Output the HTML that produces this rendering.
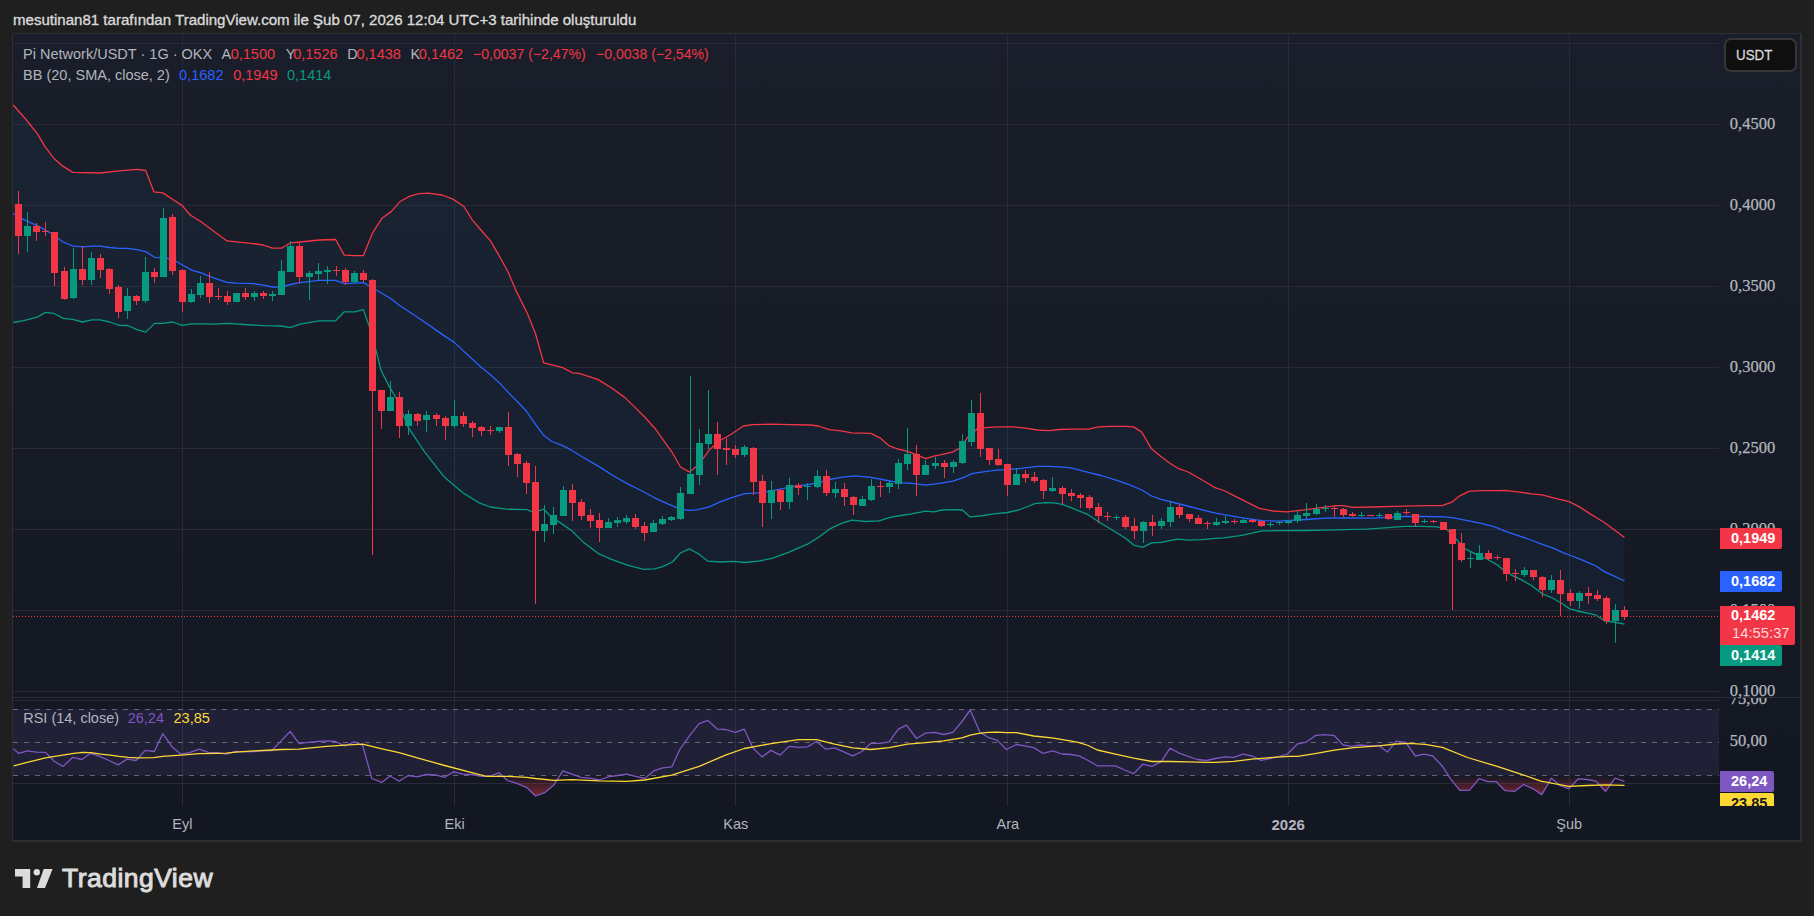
<!DOCTYPE html>
<html><head><meta charset="utf-8"><title>Pi Network/USDT chart</title>
<style>
html,body{margin:0;padding:0;background:#1f1f1f;width:1814px;height:916px;overflow:hidden;}
body{position:relative;font-family:"Liberation Sans",Arial,sans-serif;}
.t{position:absolute;white-space:nowrap;line-height:1;}
.lbl{position:absolute;left:1720px;width:62px;height:21px;font-size:14.5px;font-weight:bold;color:#fff;line-height:21px;text-indent:11px;border-radius:0 2px 2px 0;}
.usdt{position:absolute;left:1723.5px;top:38.2px;width:73.5px;height:33.6px;border:2px solid #363636;border-radius:7px;background:#0f0f0f;box-sizing:border-box}
.logo{position:absolute;left:62px;top:865px;font-size:26.5px;font-weight:normal;color:#dcdcdc;-webkit-text-stroke:1px #dcdcdc;letter-spacing:0.47px}
</style></head>
<body>
<svg width="1814" height="916" viewBox="0 0 1814 916" style="position:absolute;left:0;top:0">
<defs>
<linearGradient id="bg" x1="0" y1="0" x2="0" y2="1"><stop offset="0" stop-color="#1a1e2a"/><stop offset="1" stop-color="#131722"/></linearGradient>
<linearGradient id="os" gradientUnits="userSpaceOnUse" x1="0" y1="775.6" x2="0" y2="800"><stop offset="0" stop-color="#f23645" stop-opacity="0"/><stop offset="1" stop-color="#f23645" stop-opacity="0.55"/></linearGradient>
<clipPath id="mainclip"><rect x="13" y="34" width="1706" height="663"/></clipPath>
<clipPath id="rsiclip"><rect x="13" y="698" width="1706" height="108"/></clipPath>
<clipPath id="osclip"><rect x="13" y="775.6" width="1706" height="40"/></clipPath>
</defs>
<rect x="12" y="33" width="1790" height="809" fill="#2f2f2f"/>
<rect x="13" y="34" width="1787" height="806" fill="url(#bg)"/>
<line x1="13" y1="43.5" x2="1719" y2="43.5" stroke="#282b37" stroke-width="1"/>
<line x1="13" y1="124.5" x2="1719" y2="124.5" stroke="#282b37" stroke-width="1"/>
<line x1="13" y1="205.5" x2="1719" y2="205.5" stroke="#282b37" stroke-width="1"/>
<line x1="13" y1="286.5" x2="1719" y2="286.5" stroke="#282b37" stroke-width="1"/>
<line x1="13" y1="367.5" x2="1719" y2="367.5" stroke="#282b37" stroke-width="1"/>
<line x1="13" y1="448.5" x2="1719" y2="448.5" stroke="#282b37" stroke-width="1"/>
<line x1="13" y1="529.5" x2="1719" y2="529.5" stroke="#282b37" stroke-width="1"/>
<line x1="13" y1="610.5" x2="1719" y2="610.5" stroke="#282b37" stroke-width="1"/>
<line x1="13" y1="691.5" x2="1719" y2="691.5" stroke="#282b37" stroke-width="1"/>
<line x1="182.5" y1="34" x2="182.5" y2="806" stroke="#282b37" stroke-width="1"/>
<line x1="454.5" y1="34" x2="454.5" y2="806" stroke="#282b37" stroke-width="1"/>
<line x1="735.5" y1="34" x2="735.5" y2="806" stroke="#282b37" stroke-width="1"/>
<line x1="1007.5" y1="34" x2="1007.5" y2="806" stroke="#282b37" stroke-width="1"/>
<line x1="1288.5" y1="34" x2="1288.5" y2="806" stroke="#282b37" stroke-width="1"/>
<line x1="1569.5" y1="34" x2="1569.5" y2="806" stroke="#282b37" stroke-width="1"/>
<line x1="13" y1="697.5" x2="1800" y2="697.5" stroke="#2a2e39" stroke-width="1"/>
<line x1="13" y1="700.5" x2="1719" y2="700.5" stroke="#282b37" stroke-width="1"/>
<line x1="13" y1="783.5" x2="1719" y2="783.5" stroke="#282b37" stroke-width="1"/>
<rect x="13" y="709.1" width="1706" height="66.5" fill="#7e57c2" fill-opacity="0.12"/>
<line x1="13" y1="709.5" x2="1719" y2="709.5" stroke="#787b86" stroke-width="1" stroke-dasharray="5 6" stroke-opacity="0.8"/>
<line x1="13" y1="742.5" x2="1719" y2="742.5" stroke="#787b86" stroke-width="1" stroke-dasharray="5 6" stroke-opacity="0.8"/>
<line x1="13" y1="775.5" x2="1719" y2="775.5" stroke="#787b86" stroke-width="1" stroke-dasharray="5 6" stroke-opacity="0.8"/>
<g clip-path="url(#mainclip)">
<polygon points="13.3,105.0 26.4,120.0 37.3,133.7 45.5,147.3 53.7,158.2 63.2,166.4 72.8,172.4 100.1,173.0 119.2,170.8 137.0,169.4 145.7,170.5 153.9,191.8 162.9,192.9 172.5,199.2 182.0,205.4 190.2,215.0 201.1,221.8 214.8,231.9 227.1,240.9 250.9,243.3 263.2,245.0 272.2,248.2 281.5,248.2 290.5,242.8 300.1,242.0 319.2,240.0 335.6,239.5 344.3,255.1 354.7,255.6 363.4,255.6 372.4,233.2 382.0,218.2 391.5,211.4 399.7,201.8 409.3,196.4 418.8,193.6 428.4,193.1 442.0,195.0 453.0,199.1 463.9,206.5 472.1,219.6 480.9,230.0 490.5,240.9 500.0,257.3 508.2,272.3 516.4,291.4 527.3,313.3 535.5,333.7 543.7,362.9 551.9,364.8 562.8,367.6 572.4,372.8 579.2,373.3 590.1,376.9 598.3,379.6 612.0,388.3 624.3,397.1 633.8,406.1 644.7,417.0 655.7,429.3 672.4,452.8 680.5,467.0 689.3,471.9 698.3,465.1 709.2,450.1 720.1,440.5 731.1,434.2 743.3,426.0 752.9,424.7 772.0,424.1 791.1,424.7 810.2,425.0 818.4,426.0 829.4,429.6 840.9,430.9 851.8,432.8 871.0,433.3 880.5,438.2 888.7,445.6 898.3,449.1 907.8,451.3 917.4,455.2 925.6,458.7 933.8,456.2 944.7,453.8 952.9,451.9 961.1,447.2 967.9,436.9 977.4,428.7 988.4,427.3 999.3,426.8 1012.9,426.8 1023.9,427.9 1037.5,430.0 1048.4,430.6 1059.4,429.5 1070.9,429.1 1088.7,429.1 1098.2,426.9 1109.1,426.4 1125.5,426.4 1133.7,426.9 1141.9,432.4 1151.5,448.8 1161.0,456.4 1169.2,462.7 1178.8,468.7 1188.3,472.0 1199.2,478.3 1214.3,487.3 1223.8,490.5 1237.5,497.4 1248.4,502.8 1259.3,508.3 1273.0,511.0 1286.6,511.8 1306.4,509.7 1322.8,507.3 1336.4,505.6 1343.2,505.6 1352.8,507.3 1371.9,507.0 1393.8,506.4 1412.9,505.9 1426.5,505.6 1442.1,505.6 1452.5,501.8 1459.3,496.1 1468.8,491.4 1481.1,490.6 1494.8,490.6 1504.9,490.3 1521.5,492.4 1531.8,493.9 1542.2,494.9 1552.6,497.6 1563.0,500.1 1569.2,501.7 1579.5,506.9 1589.9,513.6 1598.2,518.7 1604.4,522.5 1612.7,528.7 1618.9,533.3 1624.5,537.4 1624.5,624.1 1612.7,622.0 1604.4,620.8 1596.1,615.2 1589.9,613.7 1579.5,611.5 1569.2,608.6 1563.0,604.2 1552.6,598.0 1542.2,593.8 1531.8,585.7 1521.5,579.9 1511.1,574.8 1502.8,569.6 1497.5,565.1 1486.6,558.8 1475.7,554.2 1464.7,548.7 1453.8,536.5 1447.0,529.6 1437.4,526.9 1421.1,526.4 1404.7,526.4 1388.3,527.7 1366.5,529.1 1344.6,529.6 1325.5,530.2 1306.4,530.5 1278.4,530.7 1262.0,530.9 1251.1,533.4 1240.2,535.6 1223.8,537.8 1215.6,538.3 1202.0,539.7 1188.3,540.2 1177.4,539.1 1161.0,542.4 1151.5,542.9 1142.7,547.3 1133.7,545.1 1125.5,538.3 1114.6,531.5 1101.0,523.3 1087.3,514.3 1070.9,507.7 1062.1,504.3 1053.9,502.9 1045.7,502.6 1034.8,503.7 1026.6,507.0 1018.4,510.0 1007.5,512.5 993.8,513.8 980.2,516.0 969.8,516.8 962.4,510.0 952.9,509.7 941.9,510.0 933.8,511.9 925.6,511.1 911.9,513.8 901.0,515.5 890.1,517.4 879.1,520.9 865.5,521.5 851.8,520.1 840.9,523.7 829.4,529.2 818.4,537.4 807.5,544.2 788.4,552.4 772.0,558.4 758.4,561.1 744.7,562.5 733.8,561.4 720.1,562.0 707.8,561.1 698.3,553.8 689.3,548.9 680.5,553.0 672.4,562.0 662.8,566.6 654.6,568.8 643.7,569.3 627.3,565.2 610.9,559.2 599.4,554.2 583.0,541.9 572.0,531.0 561.1,523.4 550.2,516.0 543.9,509.2 533.8,512.5 527.0,509.7 506.5,509.2 490.1,507.0 479.2,502.9 462.8,492.8 443.7,476.4 424.6,451.9 408.2,427.3 397.3,400.0 389.1,386.4 380.9,370.0 372.4,335.6 363.4,309.6 354.7,311.8 344.3,311.8 335.6,320.8 319.2,320.8 300.1,324.1 290.5,327.7 281.0,326.0 263.2,325.7 227.1,323.4 214.8,324.2 201.1,323.9 191.6,323.9 182.0,325.3 172.5,322.0 162.9,323.4 154.7,323.4 145.7,332.1 137.0,329.6 127.4,325.5 119.2,325.3 109.7,322.0 100.1,319.8 91.9,319.8 82.4,322.0 72.8,319.3 63.2,318.4 53.7,313.3 45.5,312.4 37.3,317.1 23.7,320.6 13.3,322.5" fill="#2196f3" fill-opacity="0.05"/>
<polyline points="13.3,105.0 26.4,120.0 37.3,133.7 45.5,147.3 53.7,158.2 63.2,166.4 72.8,172.4 100.1,173.0 119.2,170.8 137.0,169.4 145.7,170.5 153.9,191.8 162.9,192.9 172.5,199.2 182.0,205.4 190.2,215.0 201.1,221.8 214.8,231.9 227.1,240.9 250.9,243.3 263.2,245.0 272.2,248.2 281.5,248.2 290.5,242.8 300.1,242.0 319.2,240.0 335.6,239.5 344.3,255.1 354.7,255.6 363.4,255.6 372.4,233.2 382.0,218.2 391.5,211.4 399.7,201.8 409.3,196.4 418.8,193.6 428.4,193.1 442.0,195.0 453.0,199.1 463.9,206.5 472.1,219.6 480.9,230.0 490.5,240.9 500.0,257.3 508.2,272.3 516.4,291.4 527.3,313.3 535.5,333.7 543.7,362.9 551.9,364.8 562.8,367.6 572.4,372.8 579.2,373.3 590.1,376.9 598.3,379.6 612.0,388.3 624.3,397.1 633.8,406.1 644.7,417.0 655.7,429.3 672.4,452.8 680.5,467.0 689.3,471.9 698.3,465.1 709.2,450.1 720.1,440.5 731.1,434.2 743.3,426.0 752.9,424.7 772.0,424.1 791.1,424.7 810.2,425.0 818.4,426.0 829.4,429.6 840.9,430.9 851.8,432.8 871.0,433.3 880.5,438.2 888.7,445.6 898.3,449.1 907.8,451.3 917.4,455.2 925.6,458.7 933.8,456.2 944.7,453.8 952.9,451.9 961.1,447.2 967.9,436.9 977.4,428.7 988.4,427.3 999.3,426.8 1012.9,426.8 1023.9,427.9 1037.5,430.0 1048.4,430.6 1059.4,429.5 1070.9,429.1 1088.7,429.1 1098.2,426.9 1109.1,426.4 1125.5,426.4 1133.7,426.9 1141.9,432.4 1151.5,448.8 1161.0,456.4 1169.2,462.7 1178.8,468.7 1188.3,472.0 1199.2,478.3 1214.3,487.3 1223.8,490.5 1237.5,497.4 1248.4,502.8 1259.3,508.3 1273.0,511.0 1286.6,511.8 1306.4,509.7 1322.8,507.3 1336.4,505.6 1343.2,505.6 1352.8,507.3 1371.9,507.0 1393.8,506.4 1412.9,505.9 1426.5,505.6 1442.1,505.6 1452.5,501.8 1459.3,496.1 1468.8,491.4 1481.1,490.6 1494.8,490.6 1504.9,490.3 1521.5,492.4 1531.8,493.9 1542.2,494.9 1552.6,497.6 1563.0,500.1 1569.2,501.7 1579.5,506.9 1589.9,513.6 1598.2,518.7 1604.4,522.5 1612.7,528.7 1618.9,533.3 1624.5,537.4" fill="none" stroke="#f23645" stroke-width="1.3" stroke-linejoin="round"/>
<polyline points="13.3,322.5 23.7,320.6 37.3,317.1 45.5,312.4 53.7,313.3 63.2,318.4 72.8,319.3 82.4,322.0 91.9,319.8 100.1,319.8 109.7,322.0 119.2,325.3 127.4,325.5 137.0,329.6 145.7,332.1 154.7,323.4 162.9,323.4 172.5,322.0 182.0,325.3 191.6,323.9 201.1,323.9 214.8,324.2 227.1,323.4 263.2,325.7 281.0,326.0 290.5,327.7 300.1,324.1 319.2,320.8 335.6,320.8 344.3,311.8 354.7,311.8 363.4,309.6 372.4,335.6 380.9,370.0 389.1,386.4 397.3,400.0 408.2,427.3 424.6,451.9 443.7,476.4 462.8,492.8 479.2,502.9 490.1,507.0 506.5,509.2 527.0,509.7 533.8,512.5 543.9,509.2 550.2,516.0 561.1,523.4 572.0,531.0 583.0,541.9 599.4,554.2 610.9,559.2 627.3,565.2 643.7,569.3 654.6,568.8 662.8,566.6 672.4,562.0 680.5,553.0 689.3,548.9 698.3,553.8 707.8,561.1 720.1,562.0 733.8,561.4 744.7,562.5 758.4,561.1 772.0,558.4 788.4,552.4 807.5,544.2 818.4,537.4 829.4,529.2 840.9,523.7 851.8,520.1 865.5,521.5 879.1,520.9 890.1,517.4 901.0,515.5 911.9,513.8 925.6,511.1 933.8,511.9 941.9,510.0 952.9,509.7 962.4,510.0 969.8,516.8 980.2,516.0 993.8,513.8 1007.5,512.5 1018.4,510.0 1026.6,507.0 1034.8,503.7 1045.7,502.6 1053.9,502.9 1062.1,504.3 1070.9,507.7 1087.3,514.3 1101.0,523.3 1114.6,531.5 1125.5,538.3 1133.7,545.1 1142.7,547.3 1151.5,542.9 1161.0,542.4 1177.4,539.1 1188.3,540.2 1202.0,539.7 1215.6,538.3 1223.8,537.8 1240.2,535.6 1251.1,533.4 1262.0,530.9 1278.4,530.7 1306.4,530.5 1325.5,530.2 1344.6,529.6 1366.5,529.1 1388.3,527.7 1404.7,526.4 1421.1,526.4 1437.4,526.9 1447.0,529.6 1453.8,536.5 1464.7,548.7 1475.7,554.2 1486.6,558.8 1497.5,565.1 1502.8,569.6 1511.1,574.8 1521.5,579.9 1531.8,585.7 1542.2,593.8 1552.6,598.0 1563.0,604.2 1569.2,608.6 1579.5,611.5 1589.9,613.7 1596.1,615.2 1604.4,620.8 1612.7,622.0 1624.5,624.1" fill="none" stroke="#089981" stroke-width="1.3" stroke-linejoin="round"/>
<polyline points="13.3,213.6 23.7,219.6 37.3,225.6 51.0,233.3 63.2,242.0 73.3,246.1 83.7,246.9 91.9,246.1 100.1,246.1 109.7,247.5 119.2,248.3 127.4,248.3 137.0,249.7 145.7,251.6 154.7,257.3 162.9,257.8 172.5,259.2 182.0,264.7 191.6,270.1 201.1,272.9 213.4,277.8 227.1,282.4 236.6,283.2 253.7,283.7 263.2,285.1 272.2,287.0 281.5,287.0 290.5,284.5 300.1,282.6 319.2,280.4 335.6,280.4 344.3,283.7 354.7,283.2 363.4,282.6 372.4,287.8 390.2,298.2 399.7,305.5 417.5,317.3 431.1,326.6 444.8,336.1 454.3,342.4 463.9,351.4 470.0,356.9 480.9,367.0 490.5,374.7 500.0,383.4 508.2,392.4 517.8,402.0 526.0,410.7 535.5,424.3 543.7,435.3 551.9,441.5 561.5,445.1 569.7,449.2 583.0,457.3 599.4,466.9 613.7,476.0 627.3,483.6 641.0,490.5 654.6,497.8 668.3,504.1 679.2,508.7 687.4,510.4 696.9,509.8 709.2,506.8 720.1,501.9 731.1,497.8 744.7,493.7 754.3,493.2 763.8,492.4 777.5,489.6 791.1,486.9 804.8,485.0 818.4,482.8 829.4,479.5 840.9,477.3 854.6,475.9 871.0,477.3 884.6,480.0 898.3,482.7 911.9,483.3 925.6,485.2 939.2,483.3 952.9,481.1 963.8,477.3 972.0,473.7 982.9,471.8 996.6,470.2 1007.5,469.6 1021.1,468.3 1037.5,466.3 1048.4,466.3 1059.4,466.9 1070.9,467.9 1087.3,472.2 1101.0,475.5 1114.6,479.6 1128.3,484.3 1141.9,490.0 1151.5,496.0 1161.0,499.3 1171.9,502.0 1185.6,505.5 1199.2,509.1 1215.6,513.2 1229.3,515.6 1245.7,518.4 1262.0,520.6 1278.4,521.1 1306.4,519.5 1325.5,518.2 1344.6,517.9 1371.9,518.2 1388.3,517.4 1399.2,516.5 1412.9,516.5 1426.5,516.5 1444.3,516.8 1453.8,517.9 1467.5,520.6 1481.1,523.4 1494.8,526.9 1504.9,531.2 1517.3,535.3 1529.8,539.5 1542.2,544.3 1552.6,547.8 1563.0,552.6 1569.2,555.0 1579.5,558.8 1589.9,563.3 1596.1,566.0 1604.4,571.6 1612.7,575.4 1624.5,581.0" fill="none" stroke="#2962ff" stroke-width="1.3" stroke-linejoin="round"/>
<rect x="18" y="191" width="1" height="63" fill="#f23645"/>
<rect x="15" y="204" width="7" height="32" fill="#f23645"/>
<rect x="27" y="212" width="1" height="40" fill="#089981"/>
<rect x="24" y="226" width="7" height="10" fill="#089981"/>
<rect x="36" y="223" width="1" height="18" fill="#f23645"/>
<rect x="33" y="226" width="7" height="6" fill="#f23645"/>
<rect x="45" y="222" width="1" height="14" fill="#f23645"/>
<rect x="42" y="231" width="7" height="1" fill="#f23645"/>
<rect x="54" y="232" width="1" height="54" fill="#f23645"/>
<rect x="51" y="232" width="7" height="41" fill="#f23645"/>
<rect x="64" y="267" width="1" height="33" fill="#f23645"/>
<rect x="61" y="271" width="7" height="28" fill="#f23645"/>
<rect x="73" y="248" width="1" height="51" fill="#089981"/>
<rect x="70" y="269" width="7" height="29" fill="#089981"/>
<rect x="82" y="246" width="1" height="39" fill="#f23645"/>
<rect x="79" y="269" width="7" height="11" fill="#f23645"/>
<rect x="91" y="252" width="1" height="33" fill="#089981"/>
<rect x="88" y="258" width="7" height="22" fill="#089981"/>
<rect x="100" y="254" width="1" height="24" fill="#f23645"/>
<rect x="97" y="258" width="7" height="12" fill="#f23645"/>
<rect x="109" y="268" width="1" height="26" fill="#f23645"/>
<rect x="106" y="269" width="7" height="20" fill="#f23645"/>
<rect x="118" y="285" width="1" height="33" fill="#f23645"/>
<rect x="115" y="287" width="7" height="25" fill="#f23645"/>
<rect x="127" y="288" width="1" height="31" fill="#089981"/>
<rect x="124" y="296" width="7" height="15" fill="#089981"/>
<rect x="136" y="295" width="1" height="10" fill="#f23645"/>
<rect x="133" y="296" width="7" height="5" fill="#f23645"/>
<rect x="145" y="257" width="1" height="46" fill="#089981"/>
<rect x="142" y="272" width="7" height="29" fill="#089981"/>
<rect x="154" y="268" width="1" height="15" fill="#f23645"/>
<rect x="151" y="272" width="7" height="5" fill="#f23645"/>
<rect x="163" y="208" width="1" height="69" fill="#089981"/>
<rect x="160" y="218" width="7" height="59" fill="#089981"/>
<rect x="172" y="214" width="1" height="61" fill="#f23645"/>
<rect x="169" y="217" width="7" height="54" fill="#f23645"/>
<rect x="182" y="269" width="1" height="43" fill="#f23645"/>
<rect x="179" y="270" width="7" height="32" fill="#f23645"/>
<rect x="191" y="289" width="1" height="14" fill="#089981"/>
<rect x="188" y="294" width="7" height="8" fill="#089981"/>
<rect x="200" y="276" width="1" height="22" fill="#089981"/>
<rect x="197" y="283" width="7" height="12" fill="#089981"/>
<rect x="209" y="272" width="1" height="31" fill="#f23645"/>
<rect x="206" y="283" width="7" height="14" fill="#f23645"/>
<rect x="218" y="288" width="1" height="12" fill="#f23645"/>
<rect x="215" y="296" width="7" height="1" fill="#f23645"/>
<rect x="227" y="291" width="1" height="14" fill="#f23645"/>
<rect x="224" y="296" width="7" height="6" fill="#f23645"/>
<rect x="236" y="293" width="1" height="9" fill="#089981"/>
<rect x="233" y="293" width="7" height="9" fill="#089981"/>
<rect x="245" y="288" width="1" height="12" fill="#f23645"/>
<rect x="242" y="293" width="7" height="4" fill="#f23645"/>
<rect x="254" y="291" width="1" height="10" fill="#089981"/>
<rect x="251" y="293" width="7" height="4" fill="#089981"/>
<rect x="263" y="291" width="1" height="8" fill="#f23645"/>
<rect x="260" y="293" width="7" height="3" fill="#f23645"/>
<rect x="272" y="291" width="1" height="10" fill="#089981"/>
<rect x="269" y="294" width="7" height="2" fill="#089981"/>
<rect x="281" y="260" width="1" height="35" fill="#089981"/>
<rect x="278" y="271" width="7" height="24" fill="#089981"/>
<rect x="290" y="241" width="1" height="31" fill="#089981"/>
<rect x="287" y="246" width="7" height="26" fill="#089981"/>
<rect x="299" y="243" width="1" height="40" fill="#f23645"/>
<rect x="296" y="246" width="7" height="31" fill="#f23645"/>
<rect x="309" y="271" width="1" height="29" fill="#089981"/>
<rect x="306" y="273" width="7" height="4" fill="#089981"/>
<rect x="318" y="263" width="1" height="17" fill="#089981"/>
<rect x="315" y="271" width="7" height="3" fill="#089981"/>
<rect x="327" y="266" width="1" height="18" fill="#089981"/>
<rect x="324" y="270" width="7" height="2" fill="#089981"/>
<rect x="336" y="266" width="1" height="10" fill="#f23645"/>
<rect x="333" y="270" width="7" height="1" fill="#f23645"/>
<rect x="345" y="268" width="1" height="17" fill="#f23645"/>
<rect x="342" y="270" width="7" height="12" fill="#f23645"/>
<rect x="354" y="271" width="1" height="12" fill="#089981"/>
<rect x="351" y="273" width="7" height="9" fill="#089981"/>
<rect x="363" y="270" width="1" height="12" fill="#f23645"/>
<rect x="360" y="273" width="7" height="7" fill="#f23645"/>
<rect x="372" y="279" width="1" height="276" fill="#f23645"/>
<rect x="369" y="280" width="7" height="111" fill="#f23645"/>
<rect x="381" y="390" width="1" height="39" fill="#f23645"/>
<rect x="378" y="390" width="7" height="21" fill="#f23645"/>
<rect x="390" y="381" width="1" height="30" fill="#089981"/>
<rect x="387" y="397" width="7" height="14" fill="#089981"/>
<rect x="399" y="392" width="1" height="46" fill="#f23645"/>
<rect x="396" y="397" width="7" height="29" fill="#f23645"/>
<rect x="408" y="410" width="1" height="25" fill="#089981"/>
<rect x="405" y="414" width="7" height="12" fill="#089981"/>
<rect x="417" y="413" width="1" height="13" fill="#f23645"/>
<rect x="414" y="414" width="7" height="7" fill="#f23645"/>
<rect x="426" y="411" width="1" height="21" fill="#089981"/>
<rect x="423" y="415" width="7" height="5" fill="#089981"/>
<rect x="436" y="413" width="1" height="13" fill="#f23645"/>
<rect x="433" y="415" width="7" height="4" fill="#f23645"/>
<rect x="445" y="416" width="1" height="24" fill="#f23645"/>
<rect x="442" y="418" width="7" height="8" fill="#f23645"/>
<rect x="454" y="400" width="1" height="28" fill="#089981"/>
<rect x="451" y="416" width="7" height="10" fill="#089981"/>
<rect x="463" y="412" width="1" height="15" fill="#f23645"/>
<rect x="460" y="416" width="7" height="8" fill="#f23645"/>
<rect x="472" y="421" width="1" height="16" fill="#f23645"/>
<rect x="469" y="423" width="7" height="5" fill="#f23645"/>
<rect x="481" y="426" width="1" height="10" fill="#f23645"/>
<rect x="478" y="427" width="7" height="4" fill="#f23645"/>
<rect x="490" y="426" width="1" height="9" fill="#f23645"/>
<rect x="487" y="430" width="7" height="1" fill="#f23645"/>
<rect x="499" y="427" width="1" height="6" fill="#089981"/>
<rect x="496" y="427" width="7" height="4" fill="#089981"/>
<rect x="508" y="412" width="1" height="54" fill="#f23645"/>
<rect x="505" y="427" width="7" height="28" fill="#f23645"/>
<rect x="517" y="453" width="1" height="24" fill="#f23645"/>
<rect x="514" y="454" width="7" height="10" fill="#f23645"/>
<rect x="526" y="461" width="1" height="33" fill="#f23645"/>
<rect x="523" y="463" width="7" height="20" fill="#f23645"/>
<rect x="535" y="466" width="1" height="138" fill="#f23645"/>
<rect x="532" y="482" width="7" height="49" fill="#f23645"/>
<rect x="544" y="505" width="1" height="37" fill="#089981"/>
<rect x="541" y="524" width="7" height="7" fill="#089981"/>
<rect x="553" y="507" width="1" height="27" fill="#089981"/>
<rect x="550" y="515" width="7" height="10" fill="#089981"/>
<rect x="563" y="486" width="1" height="30" fill="#089981"/>
<rect x="560" y="490" width="7" height="26" fill="#089981"/>
<rect x="572" y="484" width="1" height="37" fill="#f23645"/>
<rect x="569" y="490" width="7" height="13" fill="#f23645"/>
<rect x="581" y="499" width="1" height="21" fill="#f23645"/>
<rect x="578" y="502" width="7" height="14" fill="#f23645"/>
<rect x="590" y="509" width="1" height="19" fill="#f23645"/>
<rect x="587" y="515" width="7" height="6" fill="#f23645"/>
<rect x="599" y="513" width="1" height="29" fill="#f23645"/>
<rect x="596" y="520" width="7" height="8" fill="#f23645"/>
<rect x="608" y="518" width="1" height="10" fill="#089981"/>
<rect x="605" y="522" width="7" height="6" fill="#089981"/>
<rect x="617" y="517" width="1" height="10" fill="#089981"/>
<rect x="614" y="520" width="7" height="3" fill="#089981"/>
<rect x="626" y="515" width="1" height="9" fill="#089981"/>
<rect x="623" y="518" width="7" height="4" fill="#089981"/>
<rect x="635" y="514" width="1" height="15" fill="#f23645"/>
<rect x="632" y="518" width="7" height="9" fill="#f23645"/>
<rect x="644" y="522" width="1" height="19" fill="#f23645"/>
<rect x="641" y="526" width="7" height="7" fill="#f23645"/>
<rect x="653" y="520" width="1" height="12" fill="#089981"/>
<rect x="650" y="523" width="7" height="9" fill="#089981"/>
<rect x="662" y="516" width="1" height="9" fill="#089981"/>
<rect x="659" y="519" width="7" height="5" fill="#089981"/>
<rect x="671" y="516" width="1" height="5" fill="#089981"/>
<rect x="668" y="517" width="7" height="3" fill="#089981"/>
<rect x="680" y="487" width="1" height="33" fill="#089981"/>
<rect x="677" y="493" width="7" height="26" fill="#089981"/>
<rect x="690" y="376" width="1" height="118" fill="#089981"/>
<rect x="687" y="474" width="7" height="20" fill="#089981"/>
<rect x="699" y="429" width="1" height="56" fill="#089981"/>
<rect x="696" y="443" width="7" height="32" fill="#089981"/>
<rect x="708" y="390" width="1" height="59" fill="#089981"/>
<rect x="705" y="434" width="7" height="10" fill="#089981"/>
<rect x="717" y="422" width="1" height="53" fill="#f23645"/>
<rect x="714" y="434" width="7" height="15" fill="#f23645"/>
<rect x="726" y="438" width="1" height="27" fill="#f23645"/>
<rect x="723" y="448" width="7" height="2" fill="#f23645"/>
<rect x="735" y="445" width="1" height="13" fill="#f23645"/>
<rect x="732" y="449" width="7" height="6" fill="#f23645"/>
<rect x="744" y="445" width="1" height="12" fill="#089981"/>
<rect x="741" y="447" width="7" height="8" fill="#089981"/>
<rect x="753" y="447" width="1" height="48" fill="#f23645"/>
<rect x="750" y="448" width="7" height="34" fill="#f23645"/>
<rect x="762" y="475" width="1" height="52" fill="#f23645"/>
<rect x="759" y="481" width="7" height="22" fill="#f23645"/>
<rect x="771" y="481" width="1" height="38" fill="#089981"/>
<rect x="768" y="490" width="7" height="13" fill="#089981"/>
<rect x="780" y="489" width="1" height="21" fill="#f23645"/>
<rect x="777" y="490" width="7" height="12" fill="#f23645"/>
<rect x="789" y="478" width="1" height="31" fill="#089981"/>
<rect x="786" y="485" width="7" height="17" fill="#089981"/>
<rect x="798" y="483" width="1" height="12" fill="#f23645"/>
<rect x="795" y="485" width="7" height="3" fill="#f23645"/>
<rect x="807" y="483" width="1" height="17" fill="#089981"/>
<rect x="804" y="486" width="7" height="1" fill="#089981"/>
<rect x="817" y="470" width="1" height="18" fill="#089981"/>
<rect x="814" y="476" width="7" height="11" fill="#089981"/>
<rect x="826" y="470" width="1" height="26" fill="#f23645"/>
<rect x="823" y="476" width="7" height="17" fill="#f23645"/>
<rect x="835" y="482" width="1" height="16" fill="#089981"/>
<rect x="832" y="489" width="7" height="4" fill="#089981"/>
<rect x="844" y="483" width="1" height="23" fill="#f23645"/>
<rect x="841" y="489" width="7" height="8" fill="#f23645"/>
<rect x="853" y="496" width="1" height="19" fill="#f23645"/>
<rect x="850" y="497" width="7" height="8" fill="#f23645"/>
<rect x="862" y="496" width="1" height="10" fill="#089981"/>
<rect x="859" y="499" width="7" height="7" fill="#089981"/>
<rect x="871" y="479" width="1" height="22" fill="#089981"/>
<rect x="868" y="486" width="7" height="14" fill="#089981"/>
<rect x="880" y="481" width="1" height="16" fill="#f23645"/>
<rect x="877" y="486" width="7" height="1" fill="#f23645"/>
<rect x="889" y="481" width="1" height="12" fill="#089981"/>
<rect x="886" y="483" width="7" height="4" fill="#089981"/>
<rect x="898" y="459" width="1" height="30" fill="#089981"/>
<rect x="895" y="463" width="7" height="21" fill="#089981"/>
<rect x="907" y="428" width="1" height="42" fill="#089981"/>
<rect x="904" y="454" width="7" height="10" fill="#089981"/>
<rect x="916" y="445" width="1" height="51" fill="#f23645"/>
<rect x="913" y="454" width="7" height="21" fill="#f23645"/>
<rect x="925" y="460" width="1" height="15" fill="#089981"/>
<rect x="922" y="465" width="7" height="10" fill="#089981"/>
<rect x="935" y="457" width="1" height="12" fill="#089981"/>
<rect x="932" y="463" width="7" height="3" fill="#089981"/>
<rect x="944" y="460" width="1" height="18" fill="#f23645"/>
<rect x="941" y="463" width="7" height="4" fill="#f23645"/>
<rect x="953" y="460" width="1" height="13" fill="#089981"/>
<rect x="950" y="462" width="7" height="5" fill="#089981"/>
<rect x="962" y="434" width="1" height="30" fill="#089981"/>
<rect x="959" y="441" width="7" height="22" fill="#089981"/>
<rect x="971" y="400" width="1" height="46" fill="#089981"/>
<rect x="968" y="413" width="7" height="29" fill="#089981"/>
<rect x="980" y="393" width="1" height="64" fill="#f23645"/>
<rect x="977" y="413" width="7" height="36" fill="#f23645"/>
<rect x="989" y="448" width="1" height="17" fill="#f23645"/>
<rect x="986" y="448" width="7" height="12" fill="#f23645"/>
<rect x="998" y="449" width="1" height="17" fill="#f23645"/>
<rect x="995" y="459" width="7" height="6" fill="#f23645"/>
<rect x="1007" y="464" width="1" height="32" fill="#f23645"/>
<rect x="1004" y="464" width="7" height="21" fill="#f23645"/>
<rect x="1016" y="468" width="1" height="17" fill="#089981"/>
<rect x="1013" y="474" width="7" height="11" fill="#089981"/>
<rect x="1025" y="470" width="1" height="13" fill="#f23645"/>
<rect x="1022" y="474" width="7" height="4" fill="#f23645"/>
<rect x="1034" y="472" width="1" height="11" fill="#f23645"/>
<rect x="1031" y="477" width="7" height="4" fill="#f23645"/>
<rect x="1043" y="479" width="1" height="20" fill="#f23645"/>
<rect x="1040" y="480" width="7" height="11" fill="#f23645"/>
<rect x="1052" y="477" width="1" height="15" fill="#089981"/>
<rect x="1049" y="488" width="7" height="3" fill="#089981"/>
<rect x="1062" y="486" width="1" height="18" fill="#f23645"/>
<rect x="1059" y="488" width="7" height="6" fill="#f23645"/>
<rect x="1071" y="489" width="1" height="12" fill="#f23645"/>
<rect x="1068" y="493" width="7" height="3" fill="#f23645"/>
<rect x="1080" y="493" width="1" height="15" fill="#f23645"/>
<rect x="1077" y="495" width="7" height="3" fill="#f23645"/>
<rect x="1089" y="495" width="1" height="15" fill="#f23645"/>
<rect x="1086" y="497" width="7" height="11" fill="#f23645"/>
<rect x="1098" y="503" width="1" height="20" fill="#f23645"/>
<rect x="1095" y="507" width="7" height="9" fill="#f23645"/>
<rect x="1107" y="512" width="1" height="9" fill="#f23645"/>
<rect x="1104" y="516" width="7" height="1" fill="#f23645"/>
<rect x="1116" y="515" width="1" height="5" fill="#089981"/>
<rect x="1113" y="517" width="7" height="1" fill="#089981"/>
<rect x="1125" y="515" width="1" height="14" fill="#f23645"/>
<rect x="1122" y="517" width="7" height="10" fill="#f23645"/>
<rect x="1134" y="518" width="1" height="21" fill="#f23645"/>
<rect x="1131" y="526" width="7" height="5" fill="#f23645"/>
<rect x="1143" y="521" width="1" height="22" fill="#089981"/>
<rect x="1140" y="522" width="7" height="9" fill="#089981"/>
<rect x="1152" y="515" width="1" height="21" fill="#f23645"/>
<rect x="1149" y="522" width="7" height="4" fill="#f23645"/>
<rect x="1161" y="518" width="1" height="11" fill="#089981"/>
<rect x="1158" y="521" width="7" height="5" fill="#089981"/>
<rect x="1170" y="501" width="1" height="26" fill="#089981"/>
<rect x="1167" y="507" width="7" height="15" fill="#089981"/>
<rect x="1179" y="504" width="1" height="14" fill="#f23645"/>
<rect x="1176" y="507" width="7" height="8" fill="#f23645"/>
<rect x="1189" y="514" width="1" height="8" fill="#f23645"/>
<rect x="1186" y="514" width="7" height="5" fill="#f23645"/>
<rect x="1198" y="515" width="1" height="9" fill="#f23645"/>
<rect x="1195" y="518" width="7" height="6" fill="#f23645"/>
<rect x="1207" y="521" width="1" height="8" fill="#f23645"/>
<rect x="1204" y="523" width="7" height="1" fill="#f23645"/>
<rect x="1216" y="518" width="1" height="8" fill="#089981"/>
<rect x="1213" y="522" width="7" height="3" fill="#089981"/>
<rect x="1225" y="516" width="1" height="8" fill="#089981"/>
<rect x="1222" y="521" width="7" height="2" fill="#089981"/>
<rect x="1234" y="519" width="1" height="5" fill="#f23645"/>
<rect x="1231" y="521" width="7" height="1" fill="#f23645"/>
<rect x="1243" y="519" width="1" height="4" fill="#089981"/>
<rect x="1240" y="520" width="7" height="3" fill="#089981"/>
<rect x="1252" y="519" width="1" height="4" fill="#f23645"/>
<rect x="1249" y="520" width="7" height="2" fill="#f23645"/>
<rect x="1261" y="521" width="1" height="6" fill="#f23645"/>
<rect x="1258" y="521" width="7" height="5" fill="#f23645"/>
<rect x="1270" y="522" width="1" height="5" fill="#089981"/>
<rect x="1267" y="524" width="7" height="1" fill="#089981"/>
<rect x="1279" y="521" width="1" height="4" fill="#089981"/>
<rect x="1276" y="522" width="7" height="1" fill="#089981"/>
<rect x="1288" y="520" width="1" height="4" fill="#089981"/>
<rect x="1285" y="521" width="7" height="2" fill="#089981"/>
<rect x="1297" y="511" width="1" height="12" fill="#089981"/>
<rect x="1294" y="515" width="7" height="6" fill="#089981"/>
<rect x="1306" y="503" width="1" height="16" fill="#089981"/>
<rect x="1303" y="513" width="7" height="3" fill="#089981"/>
<rect x="1316" y="504" width="1" height="11" fill="#089981"/>
<rect x="1313" y="509" width="7" height="5" fill="#089981"/>
<rect x="1325" y="505" width="1" height="7" fill="#089981"/>
<rect x="1322" y="508" width="7" height="1" fill="#089981"/>
<rect x="1334" y="506" width="1" height="11" fill="#f23645"/>
<rect x="1331" y="508" width="7" height="1" fill="#f23645"/>
<rect x="1343" y="508" width="1" height="9" fill="#f23645"/>
<rect x="1340" y="509" width="7" height="6" fill="#f23645"/>
<rect x="1352" y="512" width="1" height="5" fill="#f23645"/>
<rect x="1349" y="514" width="7" height="2" fill="#f23645"/>
<rect x="1361" y="512" width="1" height="5" fill="#089981"/>
<rect x="1358" y="515" width="7" height="1" fill="#089981"/>
<rect x="1370" y="515" width="1" height="1" fill="#f23645"/>
<rect x="1367" y="515" width="7" height="1" fill="#f23645"/>
<rect x="1379" y="513" width="1" height="4" fill="#089981"/>
<rect x="1376" y="515" width="7" height="1" fill="#089981"/>
<rect x="1388" y="514" width="1" height="6" fill="#f23645"/>
<rect x="1385" y="514" width="7" height="5" fill="#f23645"/>
<rect x="1397" y="511" width="1" height="9" fill="#089981"/>
<rect x="1394" y="513" width="7" height="7" fill="#089981"/>
<rect x="1406" y="509" width="1" height="6" fill="#f23645"/>
<rect x="1403" y="512" width="7" height="1" fill="#f23645"/>
<rect x="1415" y="514" width="1" height="12" fill="#f23645"/>
<rect x="1412" y="514" width="7" height="9" fill="#f23645"/>
<rect x="1424" y="519" width="1" height="4" fill="#089981"/>
<rect x="1421" y="521" width="7" height="1" fill="#089981"/>
<rect x="1433" y="520" width="1" height="3" fill="#f23645"/>
<rect x="1430" y="521" width="7" height="1" fill="#f23645"/>
<rect x="1443" y="522" width="1" height="8" fill="#f23645"/>
<rect x="1440" y="522" width="7" height="8" fill="#f23645"/>
<rect x="1452" y="529" width="1" height="81" fill="#f23645"/>
<rect x="1449" y="529" width="7" height="15" fill="#f23645"/>
<rect x="1461" y="533" width="1" height="29" fill="#f23645"/>
<rect x="1458" y="543" width="7" height="17" fill="#f23645"/>
<rect x="1470" y="551" width="1" height="17" fill="#089981"/>
<rect x="1467" y="558" width="7" height="1" fill="#089981"/>
<rect x="1479" y="545" width="1" height="15" fill="#089981"/>
<rect x="1476" y="553" width="7" height="7" fill="#089981"/>
<rect x="1488" y="550" width="1" height="10" fill="#f23645"/>
<rect x="1485" y="553" width="7" height="6" fill="#f23645"/>
<rect x="1497" y="555" width="1" height="5" fill="#f23645"/>
<rect x="1494" y="557" width="7" height="1" fill="#f23645"/>
<rect x="1506" y="558" width="1" height="23" fill="#f23645"/>
<rect x="1503" y="558" width="7" height="16" fill="#f23645"/>
<rect x="1515" y="569" width="1" height="12" fill="#f23645"/>
<rect x="1512" y="573" width="7" height="1" fill="#f23645"/>
<rect x="1524" y="567" width="1" height="10" fill="#089981"/>
<rect x="1521" y="570" width="7" height="5" fill="#089981"/>
<rect x="1533" y="570" width="1" height="10" fill="#f23645"/>
<rect x="1530" y="570" width="7" height="7" fill="#f23645"/>
<rect x="1542" y="576" width="1" height="21" fill="#f23645"/>
<rect x="1539" y="577" width="7" height="13" fill="#f23645"/>
<rect x="1551" y="575" width="1" height="18" fill="#089981"/>
<rect x="1548" y="580" width="7" height="10" fill="#089981"/>
<rect x="1560" y="570" width="1" height="46" fill="#f23645"/>
<rect x="1557" y="580" width="7" height="14" fill="#f23645"/>
<rect x="1570" y="589" width="1" height="17" fill="#f23645"/>
<rect x="1567" y="593" width="7" height="8" fill="#f23645"/>
<rect x="1579" y="591" width="1" height="18" fill="#089981"/>
<rect x="1576" y="593" width="7" height="8" fill="#089981"/>
<rect x="1588" y="587" width="1" height="17" fill="#f23645"/>
<rect x="1585" y="593" width="7" height="3" fill="#f23645"/>
<rect x="1597" y="590" width="1" height="11" fill="#f23645"/>
<rect x="1594" y="595" width="7" height="4" fill="#f23645"/>
<rect x="1606" y="596" width="1" height="28" fill="#f23645"/>
<rect x="1603" y="598" width="7" height="23" fill="#f23645"/>
<rect x="1615" y="604" width="1" height="39" fill="#089981"/>
<rect x="1612" y="610" width="7" height="11" fill="#089981"/>
<rect x="1624" y="606" width="1" height="14" fill="#f23645"/>
<rect x="1621" y="610" width="7" height="7" fill="#f23645"/>
<line x1="13" y1="616.5" x2="1719" y2="616.5" stroke="#f23645" stroke-width="1" stroke-dasharray="1 2"/>
</g>
<g clip-path="url(#rsiclip)">
<polygon points="13.6,775.6 13.6,749.1 18.7,753.3 27.3,750.9 36.4,752.2 45.5,752.4 54.2,761.3 63.1,766.4 72.8,757.3 81.9,759.5 90.6,753.3 99.7,756.4 109.1,760.5 118.2,764.9 127.0,759.1 136.1,760.5 145.2,750.4 154.3,751.5 162.8,733.6 172.5,747.3 181.0,754.2 190.1,752.4 199.2,749.1 208.3,752.4 217.4,752.7 226.5,754.2 235.6,751.3 244.7,751.8 253.8,751.5 262.9,750.9 272.0,750.5 281.1,740.9 290.2,731.5 299.2,743.6 308.3,742.4 317.4,741.5 326.5,740.9 335.5,741.5 344.6,745.8 354.4,741.8 362.7,745.5 371.8,778.5 381.7,782.4 390.0,776.0 399.1,781.3 408.2,775.5 417.3,776.9 426.4,774.5 435.5,774.9 444.6,777.3 453.7,771.8 462.8,774.2 471.9,774.5 481.0,776.4 490.1,776.4 499.2,772.7 507.4,780.5 517.4,783.6 526.5,787.3 535.6,796.0 544.7,792.7 553.8,785.1 562.9,770.9 572.0,774.2 581.0,777.3 590.1,778.2 599.2,780.0 608.3,776.9 617.4,775.5 626.5,774.2 635.6,776.4 644.7,778.5 653.8,770.9 662.7,767.8 671.8,766.9 680.0,749.1 689.1,736.4 699.1,723.6 707.8,720.4 717.3,729.1 725.5,729.5 735.5,732.4 744.2,729.1 752.8,747.8 761.9,756.9 771.0,750.4 780.1,755.1 789.2,746.4 798.3,747.3 807.4,746.9 816.5,741.5 825.6,749.1 834.6,747.8 843.7,751.8 852.8,755.8 861.9,751.5 871.0,743.3 880.1,743.3 889.2,741.8 898.3,729.1 906.5,725.1 916.5,738.5 925.6,733.1 934.7,732.4 943.8,734.5 952.9,732.4 962.0,721.5 970.2,710.0 980.0,732.4 988.2,737.3 997.3,740.4 1006.4,749.5 1016.4,744.5 1024.6,745.8 1033.7,747.6 1042.8,753.3 1052.8,750.9 1061.9,754.0 1071.0,754.5 1079.2,755.8 1088.2,760.5 1097.3,765.8 1106.4,765.8 1115.5,765.8 1124.6,770.0 1133.7,773.6 1142.8,764.2 1151.9,766.4 1161.0,761.8 1170.1,748.2 1179.2,753.1 1188.3,756.4 1197.4,759.5 1206.5,760.5 1215.6,758.5 1224.7,756.9 1233.8,757.3 1242.9,754.2 1252.0,756.0 1261.1,760.4 1270.2,758.5 1279.3,756.4 1287.4,754.0 1297.7,743.8 1306.4,742.1 1315.1,735.7 1323.8,734.7 1334.4,735.7 1343.1,745.0 1351.7,746.3 1360.4,745.0 1370.1,745.9 1378.8,745.4 1387.4,752.1 1396.1,741.1 1405.8,742.5 1415.4,756.0 1424.1,754.1 1432.8,756.0 1442.4,766.2 1451.1,779.7 1459.8,790.3 1469.4,790.3 1479.1,778.6 1487.8,781.7 1496.4,781.7 1505.1,790.7 1514.8,791.3 1523.5,784.4 1533.1,788.8 1541.8,794.6 1551.4,778.2 1560.1,785.5 1568.8,788.8 1578.4,778.8 1587.1,779.5 1595.8,781.1 1605.5,791.3 1615.1,778.2 1624.5,781.5 1624.5,775.6" fill="url(#os)" clip-path="url(#osclip)"/>
<polyline points="13.6,749.1 18.7,753.3 27.3,750.9 36.4,752.2 45.5,752.4 54.2,761.3 63.1,766.4 72.8,757.3 81.9,759.5 90.6,753.3 99.7,756.4 109.1,760.5 118.2,764.9 127.0,759.1 136.1,760.5 145.2,750.4 154.3,751.5 162.8,733.6 172.5,747.3 181.0,754.2 190.1,752.4 199.2,749.1 208.3,752.4 217.4,752.7 226.5,754.2 235.6,751.3 244.7,751.8 253.8,751.5 262.9,750.9 272.0,750.5 281.1,740.9 290.2,731.5 299.2,743.6 308.3,742.4 317.4,741.5 326.5,740.9 335.5,741.5 344.6,745.8 354.4,741.8 362.7,745.5 371.8,778.5 381.7,782.4 390.0,776.0 399.1,781.3 408.2,775.5 417.3,776.9 426.4,774.5 435.5,774.9 444.6,777.3 453.7,771.8 462.8,774.2 471.9,774.5 481.0,776.4 490.1,776.4 499.2,772.7 507.4,780.5 517.4,783.6 526.5,787.3 535.6,796.0 544.7,792.7 553.8,785.1 562.9,770.9 572.0,774.2 581.0,777.3 590.1,778.2 599.2,780.0 608.3,776.9 617.4,775.5 626.5,774.2 635.6,776.4 644.7,778.5 653.8,770.9 662.7,767.8 671.8,766.9 680.0,749.1 689.1,736.4 699.1,723.6 707.8,720.4 717.3,729.1 725.5,729.5 735.5,732.4 744.2,729.1 752.8,747.8 761.9,756.9 771.0,750.4 780.1,755.1 789.2,746.4 798.3,747.3 807.4,746.9 816.5,741.5 825.6,749.1 834.6,747.8 843.7,751.8 852.8,755.8 861.9,751.5 871.0,743.3 880.1,743.3 889.2,741.8 898.3,729.1 906.5,725.1 916.5,738.5 925.6,733.1 934.7,732.4 943.8,734.5 952.9,732.4 962.0,721.5 970.2,710.0 980.0,732.4 988.2,737.3 997.3,740.4 1006.4,749.5 1016.4,744.5 1024.6,745.8 1033.7,747.6 1042.8,753.3 1052.8,750.9 1061.9,754.0 1071.0,754.5 1079.2,755.8 1088.2,760.5 1097.3,765.8 1106.4,765.8 1115.5,765.8 1124.6,770.0 1133.7,773.6 1142.8,764.2 1151.9,766.4 1161.0,761.8 1170.1,748.2 1179.2,753.1 1188.3,756.4 1197.4,759.5 1206.5,760.5 1215.6,758.5 1224.7,756.9 1233.8,757.3 1242.9,754.2 1252.0,756.0 1261.1,760.4 1270.2,758.5 1279.3,756.4 1287.4,754.0 1297.7,743.8 1306.4,742.1 1315.1,735.7 1323.8,734.7 1334.4,735.7 1343.1,745.0 1351.7,746.3 1360.4,745.0 1370.1,745.9 1378.8,745.4 1387.4,752.1 1396.1,741.1 1405.8,742.5 1415.4,756.0 1424.1,754.1 1432.8,756.0 1442.4,766.2 1451.1,779.7 1459.8,790.3 1469.4,790.3 1479.1,778.6 1487.8,781.7 1496.4,781.7 1505.1,790.7 1514.8,791.3 1523.5,784.4 1533.1,788.8 1541.8,794.6 1551.4,778.2 1560.1,785.5 1568.8,788.8 1578.4,778.8 1587.1,779.5 1595.8,781.1 1605.5,791.3 1615.1,778.2 1624.5,781.5" fill="none" stroke="#7e57c2" stroke-width="1.3" stroke-linejoin="round"/>
<polyline points="13.6,765.8 28.2,762.2 45.5,757.8 62.8,755.1 73.7,753.3 82.8,752.4 91.0,752.7 101.0,754.2 110.1,755.1 119.2,756.4 128.2,757.3 137.3,757.8 153.7,757.6 162.8,756.4 181.0,755.1 199.2,753.6 217.4,753.3 226.5,753.1 235.6,752.2 253.8,750.9 272.0,750.0 281.1,749.5 299.2,749.1 308.3,748.2 326.5,746.4 344.6,745.1 362.7,744.2 380.9,748.7 399.1,752.7 417.3,757.8 444.6,765.5 471.9,772.7 486.4,776.4 508.3,776.4 526.5,777.3 535.6,778.5 553.8,780.4 572.0,779.6 599.2,780.9 626.5,781.3 644.7,780.0 671.8,775.1 699.1,766.4 725.5,755.1 744.2,748.5 771.0,743.6 798.3,739.6 816.5,739.6 834.6,744.2 852.8,747.8 871.0,749.5 889.2,747.6 907.4,744.2 925.6,742.7 943.8,740.9 962.0,737.8 970.2,735.1 979.1,733.3 988.2,732.4 997.3,732.2 1006.4,732.7 1016.4,732.7 1033.7,736.0 1051.9,737.8 1070.1,740.9 1079.2,742.7 1088.2,745.5 1097.3,750.0 1115.5,754.2 1133.7,758.2 1151.9,761.5 1170.1,761.5 1188.3,761.8 1206.5,762.4 1215.6,762.4 1233.8,761.3 1252.0,759.1 1270.2,757.6 1288.4,756.4 1297.7,756.4 1315.1,753.7 1334.4,750.2 1353.7,747.7 1378.8,745.8 1396.1,744.0 1409.6,743.4 1425.1,744.4 1442.4,747.3 1467.5,757.5 1496.4,766.2 1521.5,774.3 1540.8,781.1 1568.8,786.3 1587.1,785.5 1605.5,784.9 1624.5,785.3" fill="none" stroke="#fdd835" stroke-width="1.3" stroke-linejoin="round"/>
</g>
</svg>
<div class="t" style="left:13.0px;top:12.36px;font-size:15.05px;color:#d9d9d9;-webkit-text-stroke:0.35px #d9d9d9;">mesutinan81 tarafından TradingView.com ile Şub 07, 2026 12:04 UTC+3 tarihinde oluşturuldu</div>
<div class="t" style="left:23.1px;top:46.73px;font-size:14.50px;color:#b2b5be;">Pi Network/USDT · 1G · OKX</div>
<div class="t" style="left:221.5px;top:46.73px;font-size:14.50px;color:#b2b5be;">A</div>
<div class="t" style="left:230.7px;top:46.73px;font-size:14.50px;color:#f23645;">0,1500</div>
<div class="t" style="left:285.8px;top:46.73px;font-size:14.50px;color:#b2b5be;">Y</div>
<div class="t" style="left:293.2px;top:46.73px;font-size:14.50px;color:#f23645;">0,1526</div>
<div class="t" style="left:347.3px;top:46.73px;font-size:14.50px;color:#b2b5be;">D</div>
<div class="t" style="left:356.5px;top:46.73px;font-size:14.50px;color:#f23645;">0,1438</div>
<div class="t" style="left:410.5px;top:46.73px;font-size:14.50px;color:#b2b5be;">K</div>
<div class="t" style="left:418.8px;top:46.73px;font-size:14.50px;color:#f23645;">0,1462</div>
<div class="t" style="left:473.2px;top:46.73px;font-size:14.50px;color:#f23645;transform:scaleX(0.971);transform-origin:0 0;">−0,0037 (−2,47%)</div>
<div class="t" style="left:596.0px;top:46.73px;font-size:14.50px;color:#f23645;transform:scaleX(0.971);transform-origin:0 0;">−0,0038 (−2,54%)</div>
<div class="t" style="left:23.1px;top:67.83px;font-size:14.50px;color:#b2b5be;">BB (20, SMA, close, 2)</div>
<div class="t" style="left:179.1px;top:67.83px;font-size:14.50px;color:#2962ff;">0,1682</div>
<div class="t" style="left:233.2px;top:67.83px;font-size:14.50px;color:#f23645;">0,1949</div>
<div class="t" style="left:287.0px;top:67.83px;font-size:14.50px;color:#089981;">0,1414</div>
<div class="t" style="left:23.2px;top:710.73px;font-size:14.50px;color:#b2b5be;">RSI (14, close)</div>
<div class="t" style="left:127.7px;top:710.73px;font-size:14.50px;color:#7e57c2;">26,24</div>
<div class="t" style="left:173.5px;top:710.73px;font-size:14.50px;color:#fdd835;">23,85</div>
<div class="t" style="left:1729.8px;top:115.58px;font-size:16.50px;color:#b2b5be;font-family:'Liberation Serif',serif;-webkit-text-stroke:0.25px #b2b5be;">0,4500</div>
<div class="t" style="left:1729.8px;top:196.58px;font-size:16.50px;color:#b2b5be;font-family:'Liberation Serif',serif;-webkit-text-stroke:0.25px #b2b5be;">0,4000</div>
<div class="t" style="left:1729.8px;top:277.58px;font-size:16.50px;color:#b2b5be;font-family:'Liberation Serif',serif;-webkit-text-stroke:0.25px #b2b5be;">0,3500</div>
<div class="t" style="left:1729.8px;top:358.58px;font-size:16.50px;color:#b2b5be;font-family:'Liberation Serif',serif;-webkit-text-stroke:0.25px #b2b5be;">0,3000</div>
<div class="t" style="left:1729.8px;top:439.58px;font-size:16.50px;color:#b2b5be;font-family:'Liberation Serif',serif;-webkit-text-stroke:0.25px #b2b5be;">0,2500</div>
<div class="t" style="left:1729.8px;top:520.58px;font-size:16.50px;color:#b2b5be;font-family:'Liberation Serif',serif;-webkit-text-stroke:0.25px #b2b5be;">0,2000</div>
<div class="t" style="left:1729.8px;top:601.58px;font-size:16.50px;color:#b2b5be;font-family:'Liberation Serif',serif;-webkit-text-stroke:0.25px #b2b5be;">0,1500</div>
<div class="t" style="left:1729.8px;top:682.58px;font-size:16.50px;color:#b2b5be;font-family:'Liberation Serif',serif;-webkit-text-stroke:0.25px #b2b5be;">0,1000</div>
<div style="position:absolute;left:1720px;top:698px;width:80px;height:108px;overflow:hidden"><div class="t" style="left:9.8px;top:-6.68px;font-size:16.50px;color:#b2b5be;font-family:'Liberation Serif',serif;-webkit-text-stroke:0.25px #b2b5be;">75,00</div><div class="t" style="left:9.8px;top:34.88px;font-size:16.50px;color:#b2b5be;font-family:'Liberation Serif',serif;-webkit-text-stroke:0.25px #b2b5be;">50,00</div></div>
<div class="t" style="left:182.4px;top:816.93px;font-size:14.50px;color:#b2b5be;transform:translateX(-50%);">Eyl</div>
<div class="t" style="left:454.6px;top:816.93px;font-size:14.50px;color:#b2b5be;transform:translateX(-50%);">Eki</div>
<div class="t" style="left:735.8px;top:816.93px;font-size:14.50px;color:#b2b5be;transform:translateX(-50%);">Kas</div>
<div class="t" style="left:1007.9px;top:816.93px;font-size:14.50px;color:#b2b5be;transform:translateX(-50%);">Ara</div>
<div class="t" style="left:1288.2px;top:816.50px;font-size:15.00px;color:#b2b5be;font-weight:bold;transform:translateX(-50%);">2026</div>
<div class="t" style="left:1569.2px;top:816.93px;font-size:14.50px;color:#b2b5be;transform:translateX(-50%);">Şub</div>
<div class="usdt"></div><div class="t" style="left:1735.6px;top:46.9px;font-size:15.5px;color:#d8d8d8;-webkit-text-stroke:0.3px #d8d8d8;transform:scaleX(0.86);transform-origin:0 0">USDT</div>
<div class="lbl" style="top:528px;background:#f23645">0,1949</div>
<div class="lbl" style="top:571px;background:#2962ff">0,1682</div>
<div class="lbl" style="top:606px;height:39px;width:75px;background:#f23645"></div>
<div class="t" style="left:1731px;top:608.4px;font-size:14.5px;font-weight:bold;color:#fff">0,1462</div>
<div class="t" style="left:1732px;top:626.1px;font-size:14.8px;color:#fbd7da">14:55:37</div>
<div class="lbl" style="top:645px;background:#089981">0,1414</div>
<div class="lbl" style="top:771px;width:54px;background:#7e57c2;border-radius:0 2px 2px 0">26,24</div>
<div style="position:absolute;left:1720px;top:793px;width:54px;height:13px;overflow:hidden"><div class="lbl" style="left:0;top:0;width:54px;background:#fdd835;color:#131722">23,85</div></div>
<svg width="40" height="20" viewBox="0 0 40 20" style="position:absolute;left:15px;top:868.5px">
<path d="M0 0H15.2V19H7.6V7.6H0Z" fill="#dcdcdc"/>
<circle cx="21.8" cy="3.2" r="3.2" fill="#dcdcdc"/>
<path d="M28.7 0H37.6L30 19H22Z" fill="#dcdcdc"/>
</svg>
<div class="t logo">TradingView</div>
</body></html>
